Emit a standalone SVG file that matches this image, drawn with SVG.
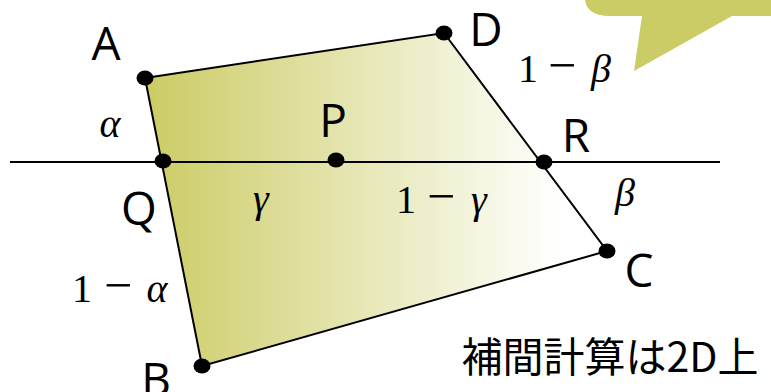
<svg xmlns="http://www.w3.org/2000/svg" width="771" height="392" viewBox="0 0 771 392">
<style>
.lbl{font-family:"Open Sans","DejaVu Sans",sans-serif;font-size:46px;fill:#000}
.math{font-family:"Liberation Serif","DejaVu Serif",serif;font-size:40px;fill:#000;text-anchor:middle}
.it{font-style:italic}
.mn{font-size:50px}
.jp{font-family:"Noto Sans CJK JP",sans-serif;font-size:41px;fill:#000}
.edge{stroke:#000;stroke-width:2;fill:none}
.dot{fill:#000}
</style>
<defs>
<linearGradient id="g" gradientUnits="userSpaceOnUse" x1="150" y1="0" x2="560" y2="0">
<stop offset="0" stop-color="#cccc66"/>
<stop offset="1" stop-color="#ffffff"/>
</linearGradient>
</defs>
<g id="bubble">
<path d="M585,0 Q587,16 610,16 L642,16 L634,71 L732,16 L771,16 L771,0 Z" fill="#cccc66"/>
</g>
<g id="quad">
<polygon points="145,78 444,33 607,251 202,366" fill="url(#g)"/>
</g>
<g id="connectors">
<line class="edge" x1="10" y1="162" x2="720" y2="162"/>
<polyline class="edge" points="145,78 444,33 607,251 202,366 145,78"/>
</g>
<g id="A"><ellipse class="dot" cx="145" cy="78" rx="8.5" ry="7.5"/><text class="lbl" x="106" y="60" text-anchor="middle">A</text></g>
<g id="D"><ellipse class="dot" cx="444" cy="33" rx="8.5" ry="7.5"/><text class="lbl" x="486" y="46" text-anchor="middle">D</text></g>
<g id="C"><ellipse class="dot" cx="607" cy="251" rx="8.5" ry="7.5"/><text class="lbl" x="639" y="287" text-anchor="middle">C</text></g>
<g id="B"><ellipse class="dot" cx="202" cy="366" rx="8.5" ry="7.5"/><text class="lbl" x="156" y="396" text-anchor="middle">B</text></g>
<g id="Q"><ellipse class="dot" cx="163" cy="161" rx="8.5" ry="7.5"/><text class="lbl" x="139" y="225" text-anchor="middle">Q</text></g>
<g id="P"><ellipse class="dot" cx="336" cy="160" rx="8.5" ry="7.5"/><text class="lbl" x="333" y="137" text-anchor="middle">P</text></g>
<g id="R"><ellipse class="dot" cx="544" cy="162" rx="8.5" ry="7.5"/><text class="lbl" x="576" y="152" text-anchor="middle">R</text></g>
<g id="labels">
<text class="math it" x="110" y="137">α</text>
<text class="math" y="302"><tspan x="82">1</tspan><tspan class="mn" x="118">−</tspan><tspan class="it" x="157">α</tspan></text>
<text class="math" y="82"><tspan x="528">1</tspan><tspan class="mn" x="562">−</tspan><tspan class="it" x="601">β</tspan></text>
<text class="math it" x="625" y="206">β</text>
<text class="math it" x="261" y="212">γ</text>
<text class="math" y="213"><tspan x="406">1</tspan><tspan class="mn" x="441">−</tspan><tspan class="it" x="479">γ</tspan></text>
<text class="jp" x="610" y="372" text-anchor="middle">補間計算は2D上</text>
</g>
</svg>
